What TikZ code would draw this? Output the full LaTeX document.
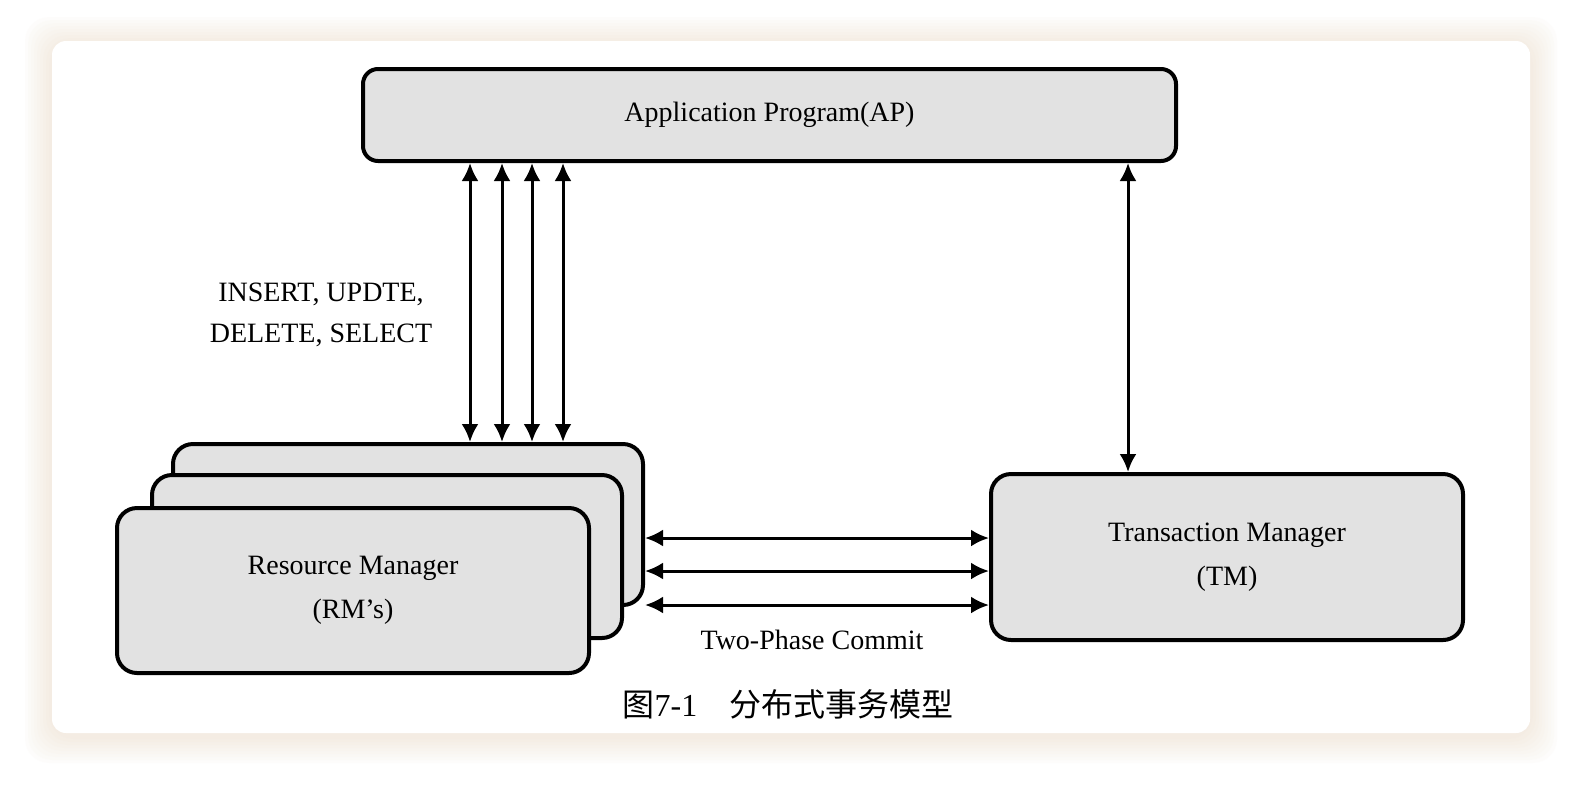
\documentclass[tikz,border=0pt]{standalone}
\usepackage{fontspec}
\setmainfont{Liberation Serif}
\newfontfamily\cjkfont{Noto Sans CJK SC}
\usetikzlibrary{arrows.meta}

\definecolor{boxgray}{RGB}{226,226,226}
\definecolor{shadowtan}{RGB}{232,214,192}

\tikzset{
  mgrbox/.style={draw=black, line width=2pt, fill=boxgray, rounded corners=10pt,
    inner sep=0pt, align=center, font=\fontsize{14}{22}\selectfont},
  msgline/.style={line width=1.5pt,
    {Latex[length=9pt,width=8.5pt]}-{Latex[length=9pt,width=8.5pt]}},
  lbl/.style={inner sep=0pt, align=center, font=\fontsize{14}{20.5}\selectfont}
}

\begin{document}
\begin{tikzpicture}[x=0.5pt,y=-0.5pt]
\useasboundingbox (0,0) rectangle (1593,788);
\fill[white] (0,0) rectangle (1593,788);
% card and its soft shadow
\foreach \d in {3,6,...,27}
  \fill[shadowtan, opacity=0.05, rounded corners=12pt]
    ({52-\d},{41-\d+3}) rectangle ({1530+\d},{733+\d+3});
\fill[white, rounded corners=7pt] (52,41) rectangle (1530,733);

% boxes
\node[mgrbox, rounded corners=7.5pt, minimum width=406.5pt, minimum height=46pt] (ap) at (769.5,115) {Application Program(AP)};
\node[mgrbox, minimum width=235pt, minimum height=80.5pt] (rmback) at (408,524.5) {};
\node[mgrbox, minimum width=235pt, minimum height=81.5pt] (rmmid) at (387,556.5) {};
\node[mgrbox, minimum width=236pt, minimum height=82.5pt] (rmfront) at (353,590.5) {Resource Manager\\(RM’s)};
\node[mgrbox, minimum width=236pt, minimum height=83pt] (tm) at (1227,557) {Transaction Manager\\(TM)};

% arrow positions
\coordinate (c1) at (470,0);
\coordinate (c2) at (502,0);
\coordinate (c3) at (532,0);
\coordinate (c4) at (563,0);
\coordinate (c5) at (1128,0);
\coordinate (h1) at (0,538);
\coordinate (h2) at (0,571);
\coordinate (h3) at (0,605);

\draw[msgline] (ap.south -| c1) -- (rmback.north -| c1);
\draw[msgline] (ap.south -| c2) -- (rmback.north -| c2);
\draw[msgline] (ap.south -| c3) -- (rmback.north -| c3);
\draw[msgline] (ap.south -| c4) -- (rmback.north -| c4);
\draw[msgline] (ap.south -| c5) -- (tm.north -| c5);
\draw[msgline] (rmback.east |- h1) -- (tm.west |- h1);
\draw[msgline] (rmback.east |- h2) -- (tm.west |- h2);
\draw[msgline] (rmback.east |- h3) -- (tm.west |- h3);

% labels
\node[lbl] (ops) at (321,315) {INSERT, UPDTE,\\DELETE, SELECT};
\node[lbl] (tpc) at (812,640) {Two-Phase Commit};
\node[lbl, font=\fontsize{16}{20}\selectfont] (caption) at (788,704) {{\cjkfont 图}7-1{\cjkfont 　分布式事务模型}};
\end{tikzpicture}
\end{document}
